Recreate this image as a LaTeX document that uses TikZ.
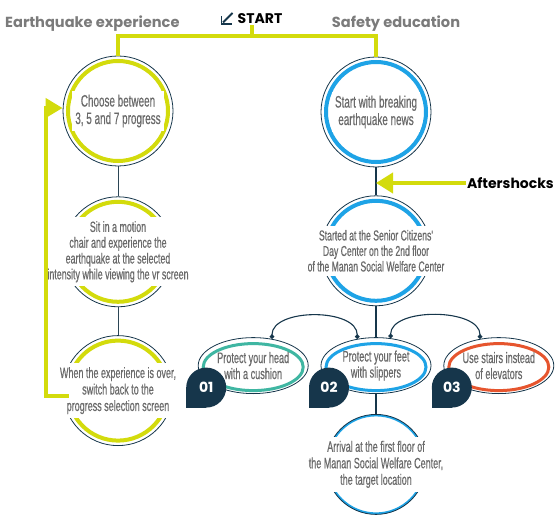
\documentclass[tikz,border=0pt]{standalone}
\usepackage{fontspec}
\setmainfont{Liberation Sans}
\newfontfamily\headfont{Poppins}
\newfontfamily\narrowfont[FakeStretch=0.6, FakeBold=0.5]{Liberation Sans}
\usetikzlibrary{arrows.meta,positioning,shapes.geometric}

\definecolor{quakeyellow}{HTML}{D3DB0C}
\definecolor{newsblue}{HTML}{1EA3E6}
\definecolor{headteal}{HTML}{3FB6A2}
\definecolor{stairred}{HTML}{E6552E}
\definecolor{deepnavy}{HTML}{16364B}
\definecolor{titlegray}{HTML}{7B7B7B}
\definecolor{bodygray}{HTML}{6A6A6A}

\tikzset{
  stage/.style={circle, draw=deepnavy, line width=0.8pt, fill=white,
    minimum size=110pt, inner sep=0pt,
    path picture={\draw[#1, line width=4pt] (path picture bounding box.center) circle (50pt);}},
  advice/.style={ellipse, draw=deepnavy, line width=0.8pt, fill=white,
    minimum width=110pt, minimum height=56pt, inner sep=0pt,
    path picture={\draw[#1, line width=3pt] ([yshift=-1.5pt]path picture bounding box.center) ellipse (50pt and 23.5pt);}},
  stagetext/.style={fill=white, text=bodygray, align=center, inner xsep=3pt, inner ysep=4pt,
    font=\narrowfont\fontsize{14.8}{15.8}\selectfont},
  leadtext/.style={stagetext, font=\narrowfont\fontsize{16.5}{17.5}\selectfont},
  advicetext/.style={text=bodygray, align=center, inner sep=1pt,
    font=\narrowfont\fontsize{15.2}{16}\selectfont},
  heading/.style={text=titlegray, inner sep=1pt, font=\headfont\bfseries\fontsize{14.6}{16}\selectfont},
  badge/.style={circle, fill=deepnavy, minimum size=40pt, inner sep=0pt, text=white,
    font=\headfont\bfseries\fontsize{14}{14}\selectfont},
  branch/.style={quakeyellow, line width=4pt},
  link/.style={deepnavy, line width=1.5pt},
  thinlink/.style={deepnavy!80!gray, line width=0.8pt},
  bough/.style={deepnavy, line width=1.1pt, {Circle[length=4.5pt]}-{Circle[length=4.5pt]}}
}

\begin{document}
\begin{tikzpicture}[x=1pt,y=1pt]
  \useasboundingbox (0,0) rectangle (556,520);

  % titles
  \node[heading, anchor=west] (exp title) at (4,496) {Earthquake experience};
  \node[heading] (edu title) at (396,496) {Safety education};
  \node[heading, text=black, font=\headfont\bfseries\fontsize{14}{16}\selectfont] (start) at (260,501) {START};
  \draw[deepnavy, line width=1.8pt] ([shift={(-15,2.5)}]start.west) -- ++(0,-7.5) -- ++(10,0);
  \draw[deepnavy, line width=1.8pt] ([shift={(-4,6)}]start.west) -- ++(-9.5,-9.5);

  % earthquake experience column
  \node[stage=quakeyellow] (choose) at (118,409) {};
  \node[stage=quakeyellow] (ride) [below=30pt of choose] {};
  \node[stage=quakeyellow] (switch back) [below=28pt of ride] {};

  % safety education column
  \node[stage=newsblue] (breaking) at (376,408) {};
  \node[stage=newsblue] (senior center) [below=28pt of breaking] {};
  \node[advice=newsblue] (protect feet) [below=31pt of senior center] {};
  \node[advice=headteal] (protect head) [left=12pt of protect feet] {};
  \node[advice=stairred] (use stairs) [right=12pt of protect feet] {};
  \node[stage=newsblue, minimum size=100pt] (arrival) [below=20pt of protect feet] {};

  \node[leadtext] (choose text) at (choose) {Choose between\\3, 5 and 7 progress};
  \node[stagetext] (ride text) at (ride) {Sit in a motion\\chair and experience the\\earthquake at the selected\\intensity while viewing the vr screen};
  \node[stagetext, font=\narrowfont\fontsize{15}{16.5}\selectfont] (switch text) at (switch back) {When the experience is over,\\switch back to the\\progress selection screen};
  \node[leadtext] (breaking text) at (breaking) {Start with breaking\\earthquake news};
  \node[stagetext, font=\narrowfont\fontsize{14.4}{15.5}\selectfont] (senior text) at (senior center) {Started at the Senior Citizens'\\Day Center on the 2nd floor\\of the Manan Social Welfare Center};
  \node[stagetext, font=\narrowfont\fontsize{15}{16.5}\selectfont] (arrival text) at (arrival) {Arrival at the first floor of\\the Manan Social Welfare Center,\\the target location};
  \node[advicetext] (head text) at (protect head) {Protect your head\\with a cushion};
  \node[advicetext] (feet text) at (protect feet) {Protect your feet\\with slippers};
  \node[advicetext] (stairs text) at (use stairs) {Use stairs instead\\of elevators};

  % number badges
  \fill[deepnavy] ([shift={(-47,-22)}]protect head.center) rectangle ++(-20,-20);
  \node[badge] (head no) at ([shift={(-47,-22)}]protect head.center) {01};
  \fill[deepnavy] ([shift={(-47,-22)}]protect feet.center) rectangle ++(-20,-20);
  \node[badge] (feet no) at ([shift={(-47,-22)}]protect feet.center) {02};
  \fill[deepnavy] ([shift={(-47,-22)}]use stairs.center) rectangle ++(-20,-20);
  \node[badge] (stairs no) at ([shift={(-47,-22)}]use stairs.center) {03};

  % connectors
  \coordinate (fork) at (252,484);
  \draw[branch] (start.south -| fork) -- (fork);
  \draw[branch] (choose.north) |- (fork) -| (breaking.north);
  \draw[thinlink] (choose) -- (ride);
  \draw[thinlink] (ride) -- (switch back);
  \draw[link] (breaking) -- (senior center);
  \draw[link, line width=2pt] (senior center) -- (protect feet);
  \draw[link, line width=2pt] (protect feet) -- (arrival);
  \draw[bough] (protect head.55) .. controls +(0,31) and +(0,31) .. (protect feet.125);
  \draw[bough] (protect feet.62) .. controls +(0,31) and +(0,31) .. (use stairs.125);

  \node[heading, text=black, anchor=east, font=\headfont\bfseries\fontsize{14}{16}\selectfont] (aftershocks) at (555,337) {Aftershocks};
  \draw[branch, -{Triangle[length=17pt, width=20pt]}] (aftershocks.west) -- (aftershocks.west -| breaking.south);
  \draw[branch, -{Triangle[length=17pt, width=19pt]}] ([shift={(6,-5)}]switch back.west) -- ++(-23,0) |- ([yshift=3pt]choose.west);
\end{tikzpicture}
\end{document}
